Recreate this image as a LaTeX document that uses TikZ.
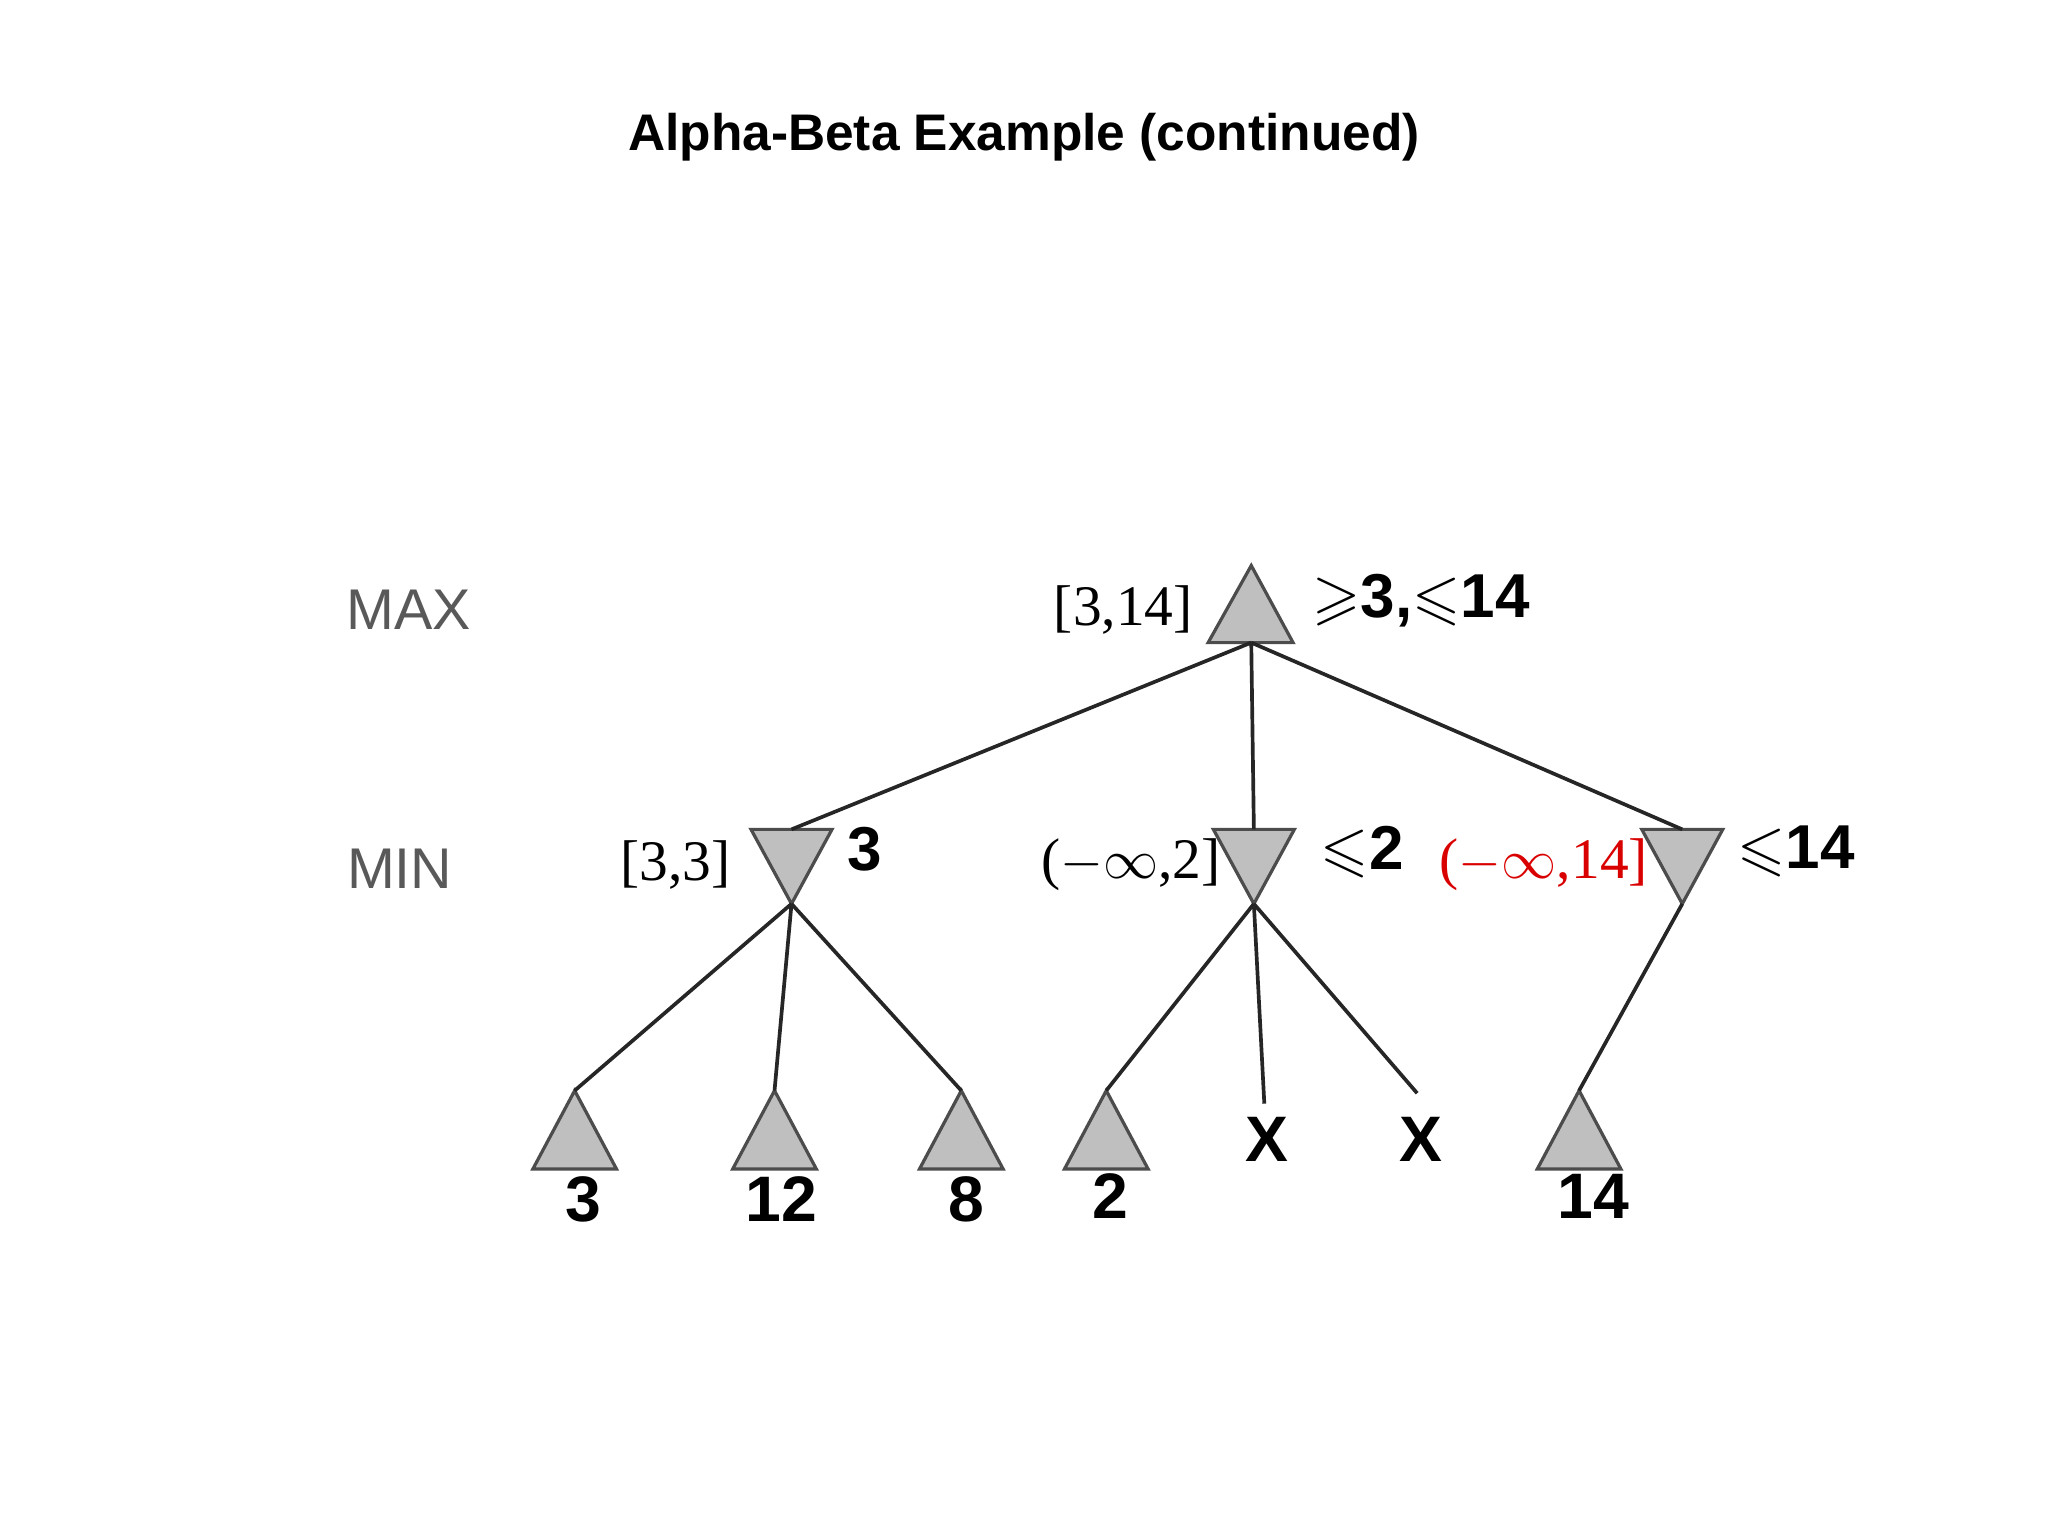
\documentclass[tikz,border=0pt]{standalone}
\usepackage{amssymb}
\usepackage{fontspec}
\setmainfont{Liberation Serif}
\newfontfamily\sansf{Liberation Sans}
\begin{document}
\begin{tikzpicture}[x=0.01cm,y=-0.01cm,
  tri/.style={fill=black!25,draw=black!70,line width=0.7pt},
  edge/.style={draw=black!85,line width=0.8pt},
  lev/.style={font=\sansf\fontsize{12.5}{13}\selectfont,text=black!65},
  bnd/.style={font=\fontsize{12.5}{13}\selectfont},
  val/.style={font=\sansf\bfseries\boldmath\fontsize{13.5}{14}\selectfont},
  leaf/.style={font=\sansf\bfseries\fontsize{14}{14}\selectfont}]
\useasboundingbox (0,0) rectangle (1568,1176);
\node[font=\sansf\bfseries\fontsize{11.2}{12}\selectfont] (title) at (784,105) {Alpha-Beta Example (continued)};
\node[lev] (max) at (313,467) {MAX};
\node[lev] (min) at (306,665) {MIN};
% root
\draw[tri] (958,433) -- (990,492) -- (925,492) -- cycle;
\coordinate (r) at (958,492);
% min nodes
\foreach \n/\x in {a/606,b/960,c/1288}{
  \draw[tri] (\x-31,635) -- (\x+31,635) -- (\x,692) -- cycle;
  \coordinate (\n t) at (\x,635);
  \coordinate (\n b) at (\x,692);}
% leaves
\foreach \n/\x in {l1/440,l2/593,l3/736,l4/847,l7/1209}{
  \draw[tri] (\x,835) -- (\x+32,895) -- (\x-32,895) -- cycle;
  \coordinate (\n) at (\x,835);}
\node[leaf] (x1) at (970,872) {X};
\node[leaf] (x2) at (1088,872) {X};
\coordinate (x1t) at (968,845);
\coordinate (x2t) at (1085,837);
\draw[edge] (r) -- (at) (r) -- (bt) (r) -- (ct);
\draw[edge] (ab) -- (l1) (ab) -- (l2) (ab) -- (l3);
\draw[edge] (bb) -- (l4) (bb) -- (x1t) (bb) -- (x2t);
\draw[edge] (cb) -- (l7);
% leaf values
\node[leaf] (v1) at (447,918) {3};
\node[leaf] (v2) at (598,918) {12};
\node[leaf] (v3) at (740,918) {8};
\node[leaf] (v4) at (850,916) {2};
\node[leaf] (v7) at (1220,916) {14};
% labels
\node[bnd] (rb) at (860,467) {[3,14]};
\node[val] (rv) at (1088,460) {$\geqslant$3,$\leqslant$14};
\node[bnd] (ab1) at (517,662) {[3,3]};
\node[val] (av) at (662,650) {3};
\node[bnd] (bb1) at (866,662) {($-\infty$,2]};
\node[val] (bv) at (1043,652) {$\leqslant$2};
\node[bnd,text=red!85!black] (cb1) at (1182,662) {($-\infty$,14]};
\node[val] (cv) at (1375,652) {$\leqslant$14};
\end{tikzpicture}
\end{document}
